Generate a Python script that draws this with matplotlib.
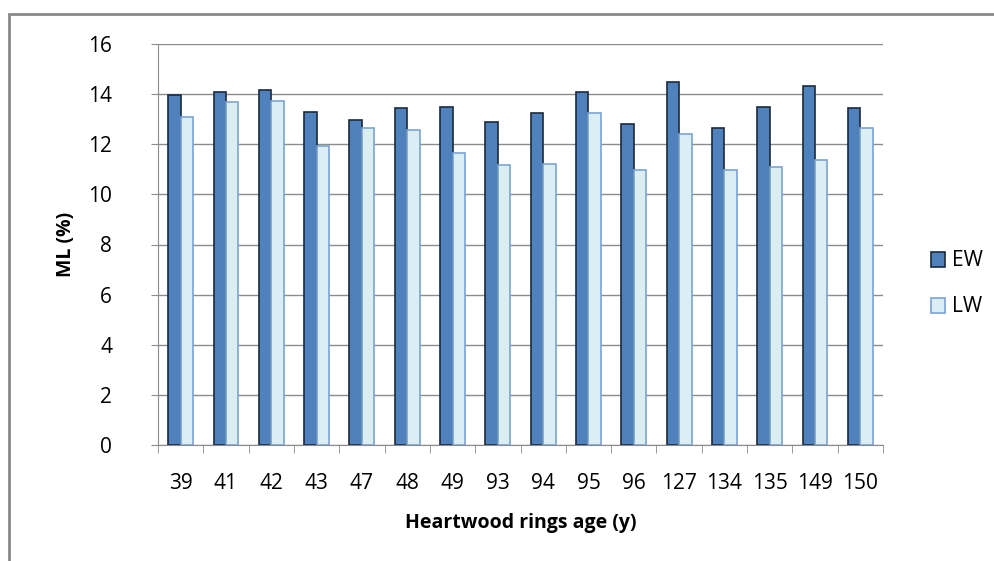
import matplotlib.pyplot as plt
import numpy as np
from matplotlib.patches import Rectangle, Patch

plt.rcParams['font.family'] = ['Open Sans', 'DejaVu Sans']

ages = ['39', '41', '42', '43', '47', '48', '49', '93', '94', '95', '96',
        '127', '134', '135', '149', '150']
ew = [13.96, 14.09, 14.15, 13.28, 12.96, 13.43, 13.48, 12.87, 13.23, 14.09,
      12.81, 14.49, 12.65, 13.48, 14.31, 13.43]
lw = [13.07, 13.69, 13.73, 11.95, 12.65, 12.56, 11.64, 11.16, 11.21, 13.23,
      10.99, 12.40, 10.99, 11.08, 11.39, 12.65]

EW_STYLE = {'facecolor': '#4F81BD', 'edgecolor': '#1c2a3a', 'linewidth': 1.2}
LW_STYLE = {'facecolor': '#DBEEF4', 'edgecolor': '#7aa3d4', 'linewidth': 1.2}

fig = plt.figure(figsize=(9.95, 5.61), dpi=100)
ax = fig.add_axes([158 / 995, 1 - 445 / 561, 725 / 995, 401 / 561])

# gray chart frame (only top and left edges are inside the picture)
fig.patches.append(Rectangle((9 / 995, -0.1), 1.2, 1 - 14 / 561 + 0.1,
                             transform=fig.transFigure, fill=False,
                             edgecolor='#8a8a8a', linewidth=2))

x = np.arange(len(ages))
w = 0.275
ax.bar(x - w / 2, ew, w, label='EW', zorder=3, **EW_STYLE)
ax.bar(x + w / 2, lw, w, label='LW', zorder=3, **LW_STYLE)

ax.set_xlim(-0.5, len(ages) - 0.5)
ax.set_ylim(0, 16)
ax.set_yticks(range(0, 17, 2))
ax.yaxis.grid(True, color='#8c8c8c', linewidth=1)
ax.set_axisbelow(True)

ax.set_xticks(x)
ax.set_xticklabels(ages)
ax.set_xticks(np.arange(-0.5, len(ages), 1), minor=True)
ax.tick_params(axis='x', which='major', length=0, pad=20, labelsize=15)
ax.tick_params(axis='x', which='minor', length=6, color='#8c8c8c')
ax.tick_params(axis='y', length=5, color='#8c8c8c', labelsize=15, pad=28)

for s in ['top', 'right']:
    ax.spines[s].set_visible(False)
for s in ['left', 'bottom']:
    ax.spines[s].set_color('#8c8c8c')

ax.set_ylabel('ML (%)', fontsize=14, fontweight='bold', labelpad=9)
ax.set_xlabel('Heartwood rings age (y)', fontsize=14, fontweight='bold', labelpad=14)

handles = [Patch(label='EW', **EW_STYLE), Patch(label='LW', **LW_STYLE)]
fig.legend(handles=handles, loc='center left', bbox_to_anchor=(912 / 995, 1 - 284 / 561),
           frameon=False, fontsize=15, handlelength=0.7, handleheight=0.7,
           handletextpad=0.3, labelspacing=1.2)

fig.savefig('out.png', dpi=100)
